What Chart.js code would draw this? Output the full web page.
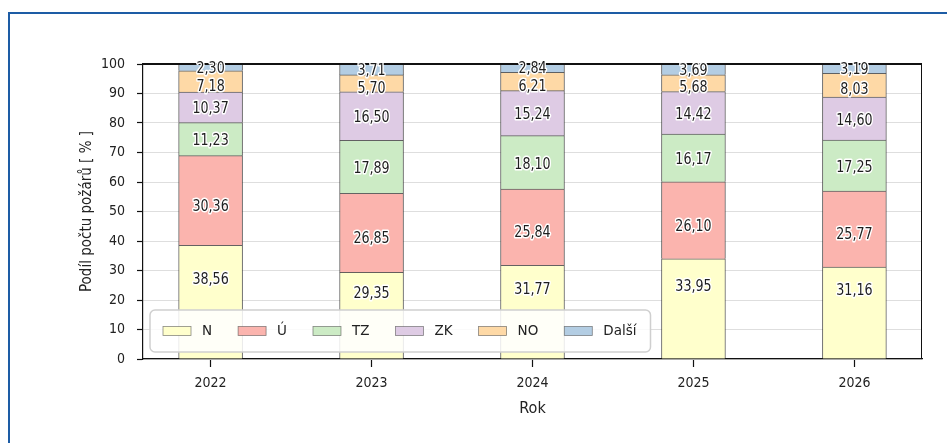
<!DOCTYPE html>
<html lang="cs">
<head>
<meta charset="utf-8">
<title>Podíl počtu požárů</title>
<script src="https://cdn.jsdelivr.net/npm/chart.js@4/dist/chart.umd.min.js"></script>
<style>
  html, body { margin: 0; padding: 0; background: #fff; overflow: hidden; }
  #ramecek {
    position: absolute; left: 8px; top: 12px; width: 1200px; height: 800px;
    border-left: 2px solid #1d5ca5; border-top: 2px solid #1d5ca5;
  }
  #graf { position: absolute; left: 0; top: 0; }
</style>
</head>
<body>
<div id="ramecek"></div>
<canvas id="graf" width="947" height="443"></canvas>
<script>
// podíl počtu požárů podle kategorie, roky 2022-2026

const roky = ['2022', '2023', '2024', '2025', '2026'];
const kategorie = ['N', 'Ú', 'TZ', 'ZK', 'NO', 'Další'];
const barvy = ['#ffffcc', '#fbb4ae', '#ccebc5', '#decbe4', '#fed9a6', '#b3cde3'];

const hodnotyN = [38.56, 29.35, 31.77, 33.95, 31.16];
const hodnotyU = [30.36, 26.85, 25.84, 26.10, 25.77];
const hodnotyTZ = [11.23, 17.89, 18.10, 16.17, 17.25];
const hodnotyZK = [10.37, 16.50, 15.24, 14.42, 14.60];
const hodnotyNO = [7.18, 5.70, 6.21, 5.68, 8.03];
const hodnotyDalsi = [2.30, 3.71, 2.84, 3.69, 3.19];

const osaY = [0, 10, 20, 30, 40, 50, 60, 70, 80, 90, 100];

const rady = [hodnotyN, hodnotyU, hodnotyTZ, hodnotyZK, hodnotyNO, hodnotyDalsi];

// posun popisků v px (N nad legendu)
const posunPopisku = [-23, 5, 1, 1, 4, 0];

const uzkePismo = "'Liberation Sans Narrow', 'DejaVu Sans Condensed', 'Roboto', sans-serif";

// rámeček kolem grafu (horní a pravá čára)
const ramPlugin = {
    id: 'ram',
    afterDatasetsDraw(chart) {
        const {ctx, chartArea: a} = chart;
        ctx.save();
        ctx.strokeStyle = '#111';
        ctx.lineWidth = 2;
        ctx.beginPath();
        ctx.moveTo(a.left, a.top);
        ctx.lineTo(a.right, a.top);
        ctx.stroke();
        ctx.lineWidth = 1;
        ctx.beginPath();
        ctx.moveTo(a.right - 0.5, a.top);
        ctx.lineTo(a.right - 0.5, a.bottom);
        ctx.stroke();
        ctx.restore();
    }
};

// popisky hodnot v segmentech
const popiskyPlugin = {
    id: 'popisky',
    afterDatasetsDraw(chart) {
        const ctx = chart.ctx;
        ctx.save();
        ctx.font = '16px ' + uzkePismo;
        ctx.textAlign = 'center';
        ctx.textBaseline = 'middle';
        ctx.lineJoin = 'round';
        chart.data.datasets.forEach((ds, i) => {
            const meta = chart.getDatasetMeta(i);
            meta.data.forEach((bar, j) => {
                const p = bar.getProps(['x', 'y', 'base'], true);
                const txt = ds.data[j].y.toFixed(2).replace('.', ',');
                const ty = (p.y + p.base) / 2 + 1 + posunPopisku[i];
                ctx.save();
                ctx.translate(p.x, ty);
                ctx.scale(0.88, 1);
                ctx.strokeStyle = '#fff';
                ctx.lineWidth = 3;
                ctx.strokeText(txt, 0, 0);
                ctx.fillStyle = '#1e1e1e';
                ctx.fillText(txt, 0, 0);
                ctx.restore();
            });
        });
        ctx.restore();
    }
};

// legenda uvnitř grafu vlevo dole
const legendaPlugin = {
    id: 'legenda',
    afterDatasetsDraw(chart) {
        const {ctx, chartArea: a} = chart;
        ctx.save();
        ctx.font = '13.5px "DejaVu Sans", sans-serif';
        const bx = a.left + 7, by = a.bottom - 49, bh = 42;
        let sirka = 13;
        chart.data.datasets.forEach((ds, i) => {
            sirka += 28 + 11 + ctx.measureText(ds.label).width + (i < chart.data.datasets.length - 1 ? 26 : 14);
        });
        ctx.beginPath();
        ctx.roundRect(bx, by, sirka, bh, 5);
        ctx.fillStyle = 'rgba(255,255,255,0.85)';
        ctx.fill();
        ctx.strokeStyle = '#cfcfcf';
        ctx.lineWidth = 1.5;
        ctx.stroke();

        let x = bx + 13;
        const cy = by + bh / 2;
        ctx.textBaseline = 'middle';
        chart.data.datasets.forEach((ds) => {
            ctx.fillStyle = ds.backgroundColor;
            ctx.fillRect(x, cy - 4.5, 28, 9);
            ctx.strokeStyle = 'rgba(60,60,60,0.6)';
            ctx.lineWidth = 0.8;
            ctx.strokeRect(x, cy - 4.5, 28, 9);
            x += 28 + 11;
            ctx.fillStyle = '#222';
            ctx.fillText(ds.label, x, cy);
            x += ctx.measureText(ds.label).width + 26;
        });
        ctx.restore();
    }
};

const datasety = kategorie.map((nazev, i) => ({
    label: nazev,
    data: rady[i].map((v, j) => ({x: j, y: v})),
    backgroundColor: barvy[i],
    borderColor: 'rgba(50,50,50,0.75)',
    borderWidth: 1,
    barThickness: 64
}));

const graf = new Chart(document.getElementById('graf'), {
    type: 'bar',
    data: { datasets: datasety },
    options: {
        responsive: false,
        animation: false,
        devicePixelRatio: 1,
        layout: { padding: { left: 0, top: 64, right: 25, bottom: 0 } },
        plugins: {
            legend: { display: false },
            tooltip: { enabled: false }
        },
        scales: {
            x: {
                type: 'linear',
                stacked: true,
                offset: false,
                min: -0.42,
                max: 4.42,
                afterBuildTicks: (scale) => { scale.ticks = roky.map((r, i) => ({value: i})); },
                afterFit: (scale) => { scale.height = 84; },
                ticks: {
                    callback: (v) => roky[v],
                    color: '#222',
                    padding: 8,
                    font: { family: uzkePismo, size: 14 }
                },
                grid: {
                    offset: false,
                    drawOnChartArea: false,
                    drawTicks: true,
                    tickLength: 8,
                    tickColor: '#111',
                    tickWidth: 1.2
                },
                border: { color: '#111', width: 1.2 },
                title: {
                    display: true,
                    text: 'Rok',
                    color: '#222',
                    font: { family: uzkePismo, size: 16 },
                    padding: { top: 0, bottom: 25 }
                }
            },
            y: {
                stacked: true,
                min: 0,
                max: 100,
                afterBuildTicks: (scale) => { scale.ticks = osaY.map(v => ({value: v})); },
                afterFit: (scale) => { scale.width = 143; },
                ticks: {
                    color: '#222',
                    padding: 12,
                    font: { family: uzkePismo, size: 14 }
                },
                grid: {
                    color: '#dedede',
                    lineWidth: 1,
                    tickLength: 6,
                    tickColor: '#111',
                    tickWidth: 1.2
                },
                border: { color: '#111', width: 1.2 },
                title: {
                    display: true,
                    text: 'Podíl počtu požárů [ % ]',
                    color: '#222',
                    font: { family: uzkePismo, size: 15 },
                    padding: { top: 78, bottom: 0 }
                }
            }
        }
    },
    plugins: [ramPlugin, popiskyPlugin, legendaPlugin]
});
</script>
</body>
</html>
